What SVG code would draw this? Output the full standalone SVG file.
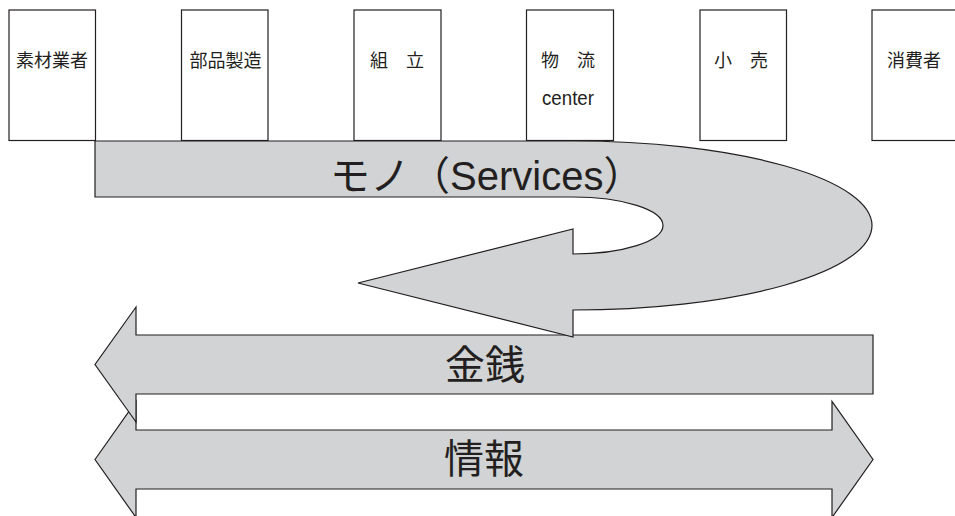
<svg xmlns="http://www.w3.org/2000/svg" width="955" height="516" viewBox="0 0 955 516">
  <style>
    .box { fill: #ffffff; stroke: #231f20; stroke-width: 1.2; }
    .lbl { font-family: "Noto Sans CJK JP", "Liberation Sans", sans-serif; font-size: 18px; fill: #231f20; text-anchor: middle; }
    .lat { font-family: "Liberation Sans", "Noto Sans CJK JP", sans-serif; fill: #231f20; }
    .flow { fill: #d1d3d4; stroke: #231f20; stroke-width: 1.2; stroke-linejoin: miter; }
    .big { font-family: "Noto Sans CJK JP", "Liberation Sans", sans-serif; font-size: 40px; fill: #231f20; text-anchor: middle; }
  </style>
  <rect width="955" height="516" fill="#ffffff"/>

  <g id="node-sozai">
    <rect class="box" x="9" y="10" width="86.5" height="130.5"/>
    <text class="lbl" x="52" y="67">素材業者</text>
  </g>
  <g id="node-buhin">
    <rect class="box" x="181.5" y="10" width="86.5" height="130.5"/>
    <text class="lbl" x="225.5" y="67">部品製造</text>
  </g>
  <g id="node-kumitate">
    <rect class="box" x="354" y="10" width="87" height="130.5"/>
    <text class="lbl" x="397" y="67">組　立</text>
  </g>
  <g id="node-butsuryu">
    <rect class="box" x="526.5" y="10" width="87" height="130.5"/>
    <text class="lbl" x="568" y="67">物　流</text>
    <text class="lat" x="542" y="105" font-size="20" textLength="52" lengthAdjust="spacingAndGlyphs">center</text>
  </g>
  <g id="node-kouri">
    <rect class="box" x="700" y="10" width="86.5" height="130.5"/>
    <text class="lbl" x="741" y="67">小　売</text>
  </g>
  <g id="node-shohisha">
    <rect class="box" x="872" y="10" width="90" height="130.5"/>
    <text class="lbl" x="914" y="67">消費者</text>
  </g>

  <g id="connectors">
    <g id="flow-joho">
      <path class="flow" d="M95,459.5 L136,401.5 L136,430 L832,430 L832,401.5 L873,459.5 L832,517.5 L832,489 L136,489 L136,517.5 Z"/>
      <text class="big" x="484" y="473">情報</text>
    </g>
    <g id="flow-kinsen">
      <path class="flow" d="M873,335 L136,335 L136,307 L95,364.5 L136,422 L136,394 L873,394 Z"/>
      <text class="big" x="485" y="379">金銭</text>
    </g>
    <g id="flow-mono">
      <path class="flow" d="M95,141 L573,141 A299,84.5 0 0 1 872,225.5 A299,84.5 0 0 1 573,310 L573,337 L358,283 L573,229 L573,254 A90,28.5 0 0 0 663,225.5 A90,28.5 0 0 0 573,197 L95,197 Z"/>
      <text class="lat" x="330" y="190" font-size="40">モノ（Services）</text>
    </g>
  </g>
</svg>
